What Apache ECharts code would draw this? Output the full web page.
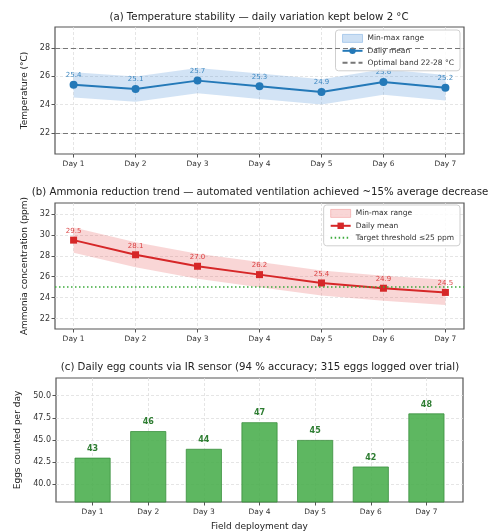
<!DOCTYPE html>
<html><head><meta charset="utf-8">
<script src="https://cdn.jsdelivr.net/npm/echarts@6/dist/echarts.min.js"></script>
<style>html,body{margin:0;padding:0;background:#fff}#c{width:492px;height:532px}</style>
</head><body><div id="c"></div>
<script>
const days = ['Day 1','Day 2','Day 3','Day 4','Day 5','Day 6','Day 7'];
const tempMean = [25.4, 25.1, 25.7, 25.3, 24.9, 25.6, 25.2];
const tempMin  = [24.5, 24.2, 24.8, 24.4, 24.0, 24.7, 24.3];
const tempMax  = [26.3, 26.0, 26.6, 26.2, 25.8, 26.5, 26.1];
const tempBand = [22, 28];
const tempTicks = [22, 24, 26, 28];
const nh3Mean = [29.5, 28.1, 27.0, 26.2, 25.4, 24.9, 24.5];
const nh3Min  = [28.3, 26.9, 25.8, 25.0, 24.2, 23.7, 23.3];
const nh3Max  = [30.7, 29.3, 28.2, 27.4, 26.6, 26.1, 25.7];
const nh3Threshold = 25;
const nh3Ticks = [22, 24, 26, 28, 30, 32];
const eggs = [43, 46, 44, 47, 45, 42, 48];
const eggTicks = [40, 42.5, 45, 47.5, 50];
const dayIdx = days.map((d, i) => i);

const FONT = 'DejaVu Sans';
const grids = [
  {left: 55, right: 28, top: 27, height: 127},
  {left: 55, right: 28, top: 203, height: 126},
  {left: 56, right: 29, top: 378, height: 127}
].map(g => Object.assign(g, {show: true, borderColor: '#555', borderWidth: 1.2, containLabel: false}));

function xAx(gi, min, max, name) {
  return {
    type: 'value', gridIndex: gi, min: min, max: max,
    axisLine: {show: false, onZero: false},
    axisTick: {show: true, customValues: dayIdx, length: 3.5, lineStyle: {color: '#555'}},
    axisLabel: {customValues: dayIdx, formatter: v => days[Math.round(v)], fontFamily: FONT, fontSize: 7.5, color: '#333', margin: 6},
    splitLine: {show: true, lineStyle: {color: '#dedede', type: [3, 2], width: 0.8}},
    name: name || '', nameLocation: 'middle', nameGap: 20,
    nameTextStyle: {fontFamily: FONT, fontSize: 9, color: '#222'}
  };
}
function yAx(gi, min, max, ticks, name, gap, fmt) {
  return {
    type: 'value', gridIndex: gi, min: min, max: max,
    axisLine: {show: false, onZero: false},
    axisTick: {show: true, customValues: ticks, length: 3.5, lineStyle: {color: '#555'}},
    axisLabel: {customValues: ticks, formatter: fmt || (v => String(v)), fontFamily: FONT, fontSize: 8, color: '#333', margin: 5},
    splitLine: {show: true, lineStyle: {color: '#dedede', type: [3, 2], width: 0.8}},
    name: name, nameLocation: 'middle', nameGap: gap, nameRotate: 90,
    nameTextStyle: {fontFamily: FONT, fontSize: 9, color: '#222'}
  };
}
function band(gi, name, lo, hi, fill) {
  return {
    type: 'custom', name: name, xAxisIndex: gi, yAxisIndex: gi, z: 1,
    itemStyle: {color: fill},
    data: lo.map((v, i) => [i, v, hi[i]]),
    encode: {x: 0, y: [1, 2]},
    renderItem: function (params, api) {
      if (params.dataIndex !== 0) return null;
      const pts = [];
      for (let i = 0; i < hi.length; i++) pts.push(api.coord([i, hi[i]]));
      for (let i = lo.length - 1; i >= 0; i--) pts.push(api.coord([i, lo[i]]));
      return {type: 'polygon', shape: {points: pts}, style: {fill: fill}};
    }
  };
}
function meanLine(gi, name, vals, color, symbol, size) {
  return {
    type: 'line', name: name, xAxisIndex: gi, yAxisIndex: gi, z: 3,
    data: vals.map((v, i) => [i, v]),
    symbol: symbol, symbolSize: size, showAllSymbol: true,
    lineStyle: {color: color, width: 2}, itemStyle: {color: color},
    label: {show: true, position: 'top', distance: 2, formatter: p => p.value[1].toFixed(1),
      fontFamily: FONT, fontSize: 7, color: color, opacity: 0.85}
  };
}
function refLine(gi, name, values, color, dash, width) {
  return {
    type: 'line', name: name, xAxisIndex: gi, yAxisIndex: gi, z: 2,
    data: [[dayIdx[0], values[0]]], symbol: 'none', showSymbol: false,
    lineStyle: {color: color, type: dash, width: width}, itemStyle: {color: color},
    markLine: {silent: true, symbol: 'none', label: {show: false},
      lineStyle: {color: color, type: dash, width: width},
      data: values.map(v => ({yAxis: v}))}
  };
}
function legend(right, top, items) {
  return {
    orient: 'vertical', right: right, top: top, data: items,
    itemWidth: 20, itemHeight: 8, itemGap: 4, padding: [4, 6, 4, 6],
    backgroundColor: 'rgba(255,255,255,0.85)', borderColor: '#cfcfcf', borderWidth: 1, borderRadius: 3,
    textStyle: {fontFamily: FONT, fontSize: 7.5, color: '#333'}, selectedMode: false
  };
}
const noMarker = {color: 'rgba(0,0,0,0)', borderWidth: 0, borderColor: 'rgba(0,0,0,0)'};
const titleStyle = {fontFamily: FONT, fontSize: 10.2, fontWeight: 'normal', color: '#222'};

const option = {
  animation: false,
  textStyle: {fontFamily: FONT},
  title: [
    {text: '(a) Temperature stability — daily variation kept below 2 °C', left: 259, top: 12, textAlign: 'center', textStyle: titleStyle, padding: 0},
    {text: '(b) Ammonia reduction trend — automated ventilation achieved ~15% average decrease', left: 260, top: 187, textAlign: 'center', textStyle: titleStyle, padding: 0},
    {text: '(c) Daily egg counts via IR sensor (94 % accuracy; 315 eggs logged over trial)', left: 260, top: 362, textAlign: 'center', textStyle: titleStyle, padding: 0}
  ],
  grid: grids,
  xAxis: [xAx(0, -0.3, 6.3), xAx(1, -0.3, 6.3), xAx(2, -0.6575, 6.6575, 'Field deployment day')],
  yAxis: [
    yAx(0, 20.5, 29.5, tempTicks, 'Temperature (°C)', 21, null),
    yAx(1, 21, 33.05, nh3Ticks, 'Ammonia concentration (ppm)', 19, null),
    yAx(2, 38, 52, eggTicks, 'Eggs counted per day', 33, v => v.toFixed(1))
  ],
  legend: [
    legend(32, 30, [
      {name: 'Min-max range', icon: 'rect', itemStyle: {color: 'rgba(74,144,217,0.28)', borderColor: 'rgba(74,144,217,0.45)', borderWidth: 0.8}},
      {name: 'Daily mean'},
      {name: 'Optimal band 22-28 °C', itemStyle: noMarker}
    ]),
    legend(32, 205, [
      {name: 'Min-max range ', icon: 'rect', itemStyle: {color: 'rgba(232,90,90,0.25)', borderColor: 'rgba(232,90,90,0.4)', borderWidth: 0.8}},
      {name: 'Daily mean '},
      {name: 'Target threshold ≤25 ppm', itemStyle: noMarker}
    ])
  ],
  series: [
    band(0, 'Min-max range', tempMin, tempMax, 'rgba(74,144,217,0.25)'),
    refLine(0, 'Optimal band 22-28 °C', tempBand, '#777', [5, 3], 1),
    meanLine(0, 'Daily mean', tempMean, '#2479b8', 'circle', 8),
    band(1, 'Min-max range ', nh3Min, nh3Max, 'rgba(232,90,90,0.25)'),
    refLine(1, 'Target threshold ≤25 ppm', [nh3Threshold], '#3cab3c', [1.5, 2.5], 1.5),
    meanLine(1, 'Daily mean ', nh3Mean, '#d62728', 'rect', 7),
    {
      type: 'bar', name: 'Eggs', xAxisIndex: 2, yAxisIndex: 2, barWidth: 36,
      data: eggs.map((v, i) => [i, v]),
      itemStyle: {color: 'rgba(76,175,80,0.9)', borderColor: '#3a8f3e', borderWidth: 0.8},
      label: {show: true, position: 'top', distance: 5, formatter: p => String(p.value[1]),
        fontFamily: FONT, fontSize: 8, fontWeight: 'bold', color: '#2e7d32'}
    }
  ]
};
const chart = echarts.init(document.getElementById('c'), null, {renderer: 'canvas'});
chart.setOption(option);
</script></body></html>
